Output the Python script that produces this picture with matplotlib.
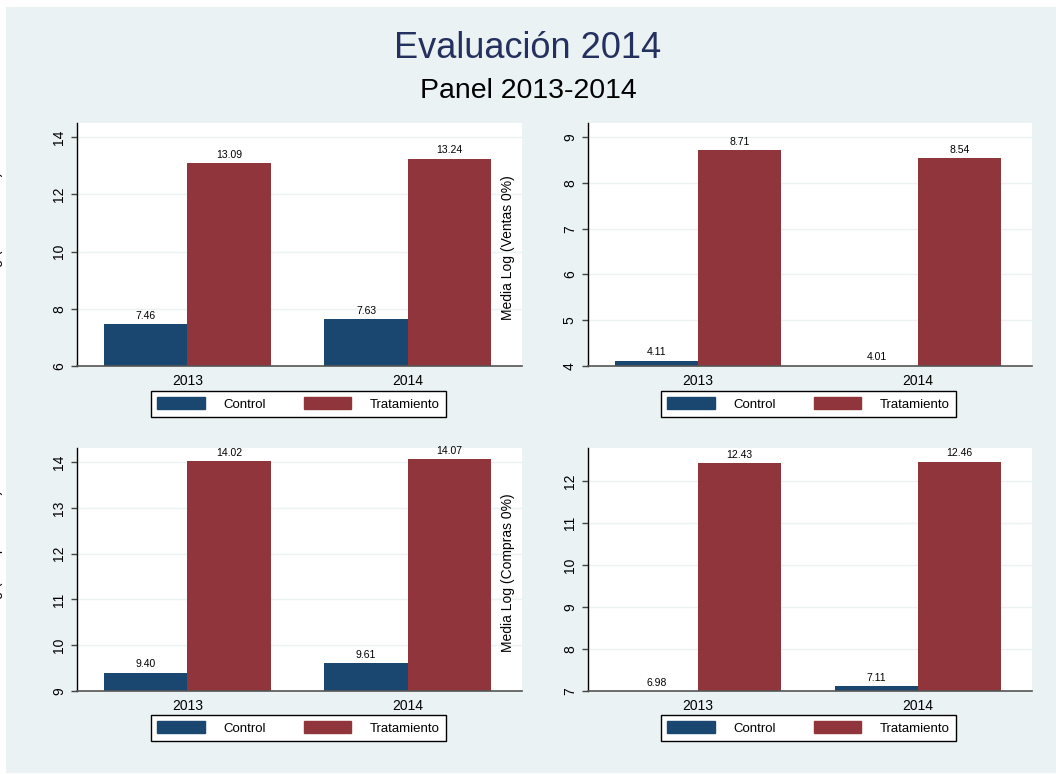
import matplotlib
matplotlib.use("Agg")
import matplotlib.pyplot as plt
from matplotlib.patches import Rectangle, Patch

plt.rcParams['font.family'] = ['Liberation Sans', 'DejaVu Sans']

# ---- data ----
years = ["2013", "2014"]
series_names = ["Control", "Tratamiento"]

ventas_control = [7.46, 7.63]
ventas_tratamiento = [13.09, 13.24]

ventas0_control = [4.11, 4.01]
ventas0_tratamiento = [8.71, 8.54]

compras_control = [9.40, 9.61]
compras_tratamiento = [14.02, 14.07]

compras0_control = [6.98, 7.11]
compras0_tratamiento = [12.43, 12.46]

ylabels = ["Media Log (Ventas 10%)", "Media Log (Ventas 0%)",
           "Media Log (Compras 10%)", "Media Log (Compras 0%)"]

# ---- style ----
BG = "#eaf2f3"
NAVY = "#1a476f"
MAROON = "#90353b"
TITLE_COLOR = "#24305e"

W, H = 1056, 774
fig = plt.figure(figsize=(W / 100, H / 100), dpi=100)
fig.patch.set_facecolor("white")


def fx(px):
    return px / W


def fy(py):
    return 1 - py / H


fig.patches.append(Rectangle((fx(6), fy(773)), fx(1056) - fx(6), fy(7) - fy(773),
                             transform=fig.transFigure, facecolor=BG,
                             edgecolor="none", zorder=-5))

fig.text(0.5, fy(48), "Evaluación 2014", ha="center", va="center",
         fontsize=26, color=TITLE_COLOR)
fig.text(0.5, fy(91), "Panel 2013-2014", ha="center", va="center",
         fontsize=20.5, color="black")

# panel boxes in pixels: left, top, right, bottom ; y range ; ticks
panels = [
    dict(box=(77, 123, 522, 366), ylim=(6, 14.49), ticks=[6, 8, 10, 12, 14],
         ctrl=ventas_control, trat=ventas_tratamiento, ylab=ylabels[0],
         ylab_x=-4, leg=(298.5, 404)),
    dict(box=(588, 123, 1032, 366), ylim=(4, 9.31), ticks=[4, 5, 6, 7, 8, 9],
         ctrl=ventas0_control, trat=ventas0_tratamiento, ylab=ylabels[1],
         ylab_x=508, leg=(808.5, 404)),
    dict(box=(77, 448, 522, 691), ylim=(9, 14.31), ticks=[9, 10, 11, 12, 13, 14],
         ctrl=compras_control, trat=compras_tratamiento, ylab=ylabels[2],
         ylab_x=-4, leg=(298.5, 728)),
    dict(box=(588, 448, 1032, 691), ylim=(7, 12.79), ticks=[7, 8, 9, 10, 11, 12],
         ctrl=compras0_control, trat=compras0_tratamiento, ylab=ylabels[3],
         ylab_x=508, leg=(808.5, 728)),
]

bar_w = 0.378
xs = list(range(len(years)))

for p in panels:
    l, t, r, b = p["box"]
    ax = fig.add_axes([fx(l), fy(b), (r - l) / W, (b - t) / H])
    ax.set_facecolor("white")
    ax.set_xlim(-0.5, 1.518)
    ylo, yhi = p["ylim"]
    ax.set_ylim(ylo, yhi)

    ax.bar([x - bar_w / 2 for x in xs], p["ctrl"], width=bar_w, bottom=0,
           color=NAVY, linewidth=0, zorder=2)
    ax.bar([x + bar_w / 2 for x in xs], p["trat"], width=bar_w, bottom=0,
           color=MAROON, linewidth=0, zorder=2)

    for vals, off in ((p["ctrl"], -bar_w / 2), (p["trat"], bar_w / 2)):
        for x, v in zip(xs, vals):
            ax.annotate(f"{v:.2f}", (x + off, max(v, ylo)), xytext=(0, 2.5),
                        textcoords="offset points", ha="center", va="bottom",
                        fontsize=7.5, color="black", zorder=4,
                        annotation_clip=False)

    ax.set_yticks(p["ticks"])
    ax.set_yticklabels([str(v) for v in p["ticks"]], rotation=90, va="center")
    ax.set_xticks(xs)
    ax.set_xticklabels(years)
    ax.tick_params(axis="x", length=0, pad=6, labelsize=10)
    ax.tick_params(axis="y", length=4, width=1, color="#444444", pad=4,
                   labelsize=10)
    ax.yaxis.grid(True, color=BG, linewidth=1.0, zorder=1)
    ax.set_axisbelow(True)
    for s in ("top", "right"):
        ax.spines[s].set_visible(False)
    ax.spines["left"].set_color("black")
    ax.spines["left"].set_linewidth(1.0)
    ax.spines["bottom"].set_color("#555555")
    ax.spines["bottom"].set_linewidth(1.2)

    fig.text(fx(p["ylab_x"]), fy((t + b) / 2 + 3), p["ylab"], rotation=90,
             ha="center", va="center", fontsize=10, color="black")

    handles = [Patch(facecolor=NAVY, edgecolor=NAVY),
               Patch(facecolor=MAROON, edgecolor=MAROON)]
    lx, ly = p["leg"]
    leg = fig.legend(handles, series_names, loc="center",
                     bbox_to_anchor=(fx(lx), fy(ly)), ncol=2, frameon=True,
                     fancybox=False, edgecolor="black", fontsize=9.5,
                     handlelength=3.6, handleheight=1.0, handletextpad=1.4,
                     columnspacing=2.9, borderpad=0.5, borderaxespad=0)
    leg.get_frame().set_linewidth(1.0)
    leg.get_frame().set_facecolor("white")
    leg.get_frame().set_alpha(1.0)

fig.savefig("out.png", dpi=100, facecolor=fig.get_facecolor())
